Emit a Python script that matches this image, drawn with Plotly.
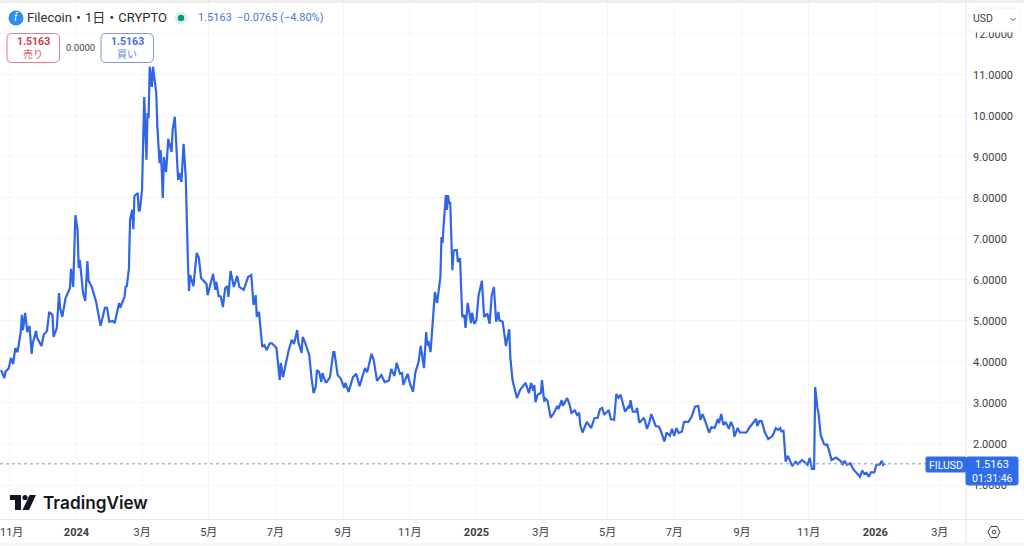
import pandas as pd
import plotly.graph_objects as go

W, H = 1024, 546
PLOT_RIGHT, PLOT_TOP, PLOT_BOTTOM = 966, 4, 519

# Tage seit dem 2024-01-01 und Kurs
days = [-69, -66, -65, -62, -60, -58, -56, -54, -51, -50, -49, -47, -45, -43, -41, -40, -37, -36, -32, -30,
        -27, -25, -22, -21, -18, -16, -15, -13, -10, -6, -5, -3, -1, 1, 2, 3, 6, 8, 10, 11,
        14, 18, 22, 23, 26, 28, 30, 33, 35, 37, 39, 40, 44, 45, 46, 48, 49, 51, 52, 53,
        56, 57, 58, 60, 62, 64, 65, 66, 67, 69, 70, 73, 74, 76, 77, 78, 79, 80, 82, 84,
        87, 88, 90, 93, 94, 96, 98, 100, 101, 102, 103, 104, 107, 110, 112, 114, 119, 120, 125, 127,
        128, 130, 132, 134, 136, 138, 139, 141, 144, 147, 149, 153, 157, 160, 162, 164, 165, 167, 170, 172,
        174, 177, 179, 183, 186, 187, 189, 194, 197, 199, 202, 203, 206, 207, 209, 213, 215, 217, 219, 220,
        222, 224, 225, 228, 229, 232, 235, 236, 239, 242, 245, 246, 249, 253, 256, 259, 264, 266, 270, 272,
        275, 279, 282, 286, 288, 291, 293, 296, 298, 299, 303, 305, 308, 310, 313, 315, 318, 320, 321, 322,
        324, 326, 328, 330, 332, 333, 334, 335, 336, 338, 339, 340, 341, 342, 344, 345, 346, 348, 349, 351,
        353, 355, 356, 358, 361, 362, 364, 366, 368, 371, 373, 376, 378, 380, 382, 384, 386, 387, 390, 393,
        396, 397, 399, 403, 406, 411, 414, 416, 418, 419, 420, 422, 425, 426, 428, 429, 431, 434, 437, 440,
        441, 444, 445, 449, 451, 453, 456, 458, 460, 461, 463, 465, 467, 471, 474, 477, 479, 481, 483, 487,
        489, 492, 494, 496, 498, 500, 502, 505, 506, 507, 509, 512, 513, 515, 519, 520, 522, 524, 526, 530,
        533, 535, 538, 540, 543, 545, 547, 549, 551, 554, 556, 560, 563, 566, 569, 571, 573, 576, 579, 581,
        584, 587, 588, 590, 592, 594, 597, 599, 601, 602, 605, 607, 613, 616, 622, 623, 625, 627, 630, 633,
        637, 640, 642, 644, 645, 647, 649, 651, 655, 658, 660, 664, 668, 669, 671, 673, 675, 676, 678, 679,
        681, 684, 686, 687, 691, 695, 700, 701, 703, 705, 708, 711, 717, 719, 721, 723, 725, 727, 730, 732,
        735, 737, 738, 740]
prices = [3.80, 3.61, 3.76, 3.85, 4.10, 3.95, 4.34, 4.24, 4.73, 5.15, 4.78, 5.20, 4.73, 4.88, 4.20, 4.46, 4.76, 4.59, 4.39, 4.66,
          4.76, 5.22, 5.15, 4.61, 4.83, 5.68, 5.32, 5.10, 5.56, 5.80, 6.27, 5.83, 7.58, 7.22, 6.29, 6.49, 5.68, 5.49, 6.46, 5.99,
          5.83, 5.46, 4.88, 4.98, 5.32, 5.32, 4.98, 5.00, 4.95, 5.20, 5.44, 5.32, 5.59, 5.85, 5.83, 6.29, 7.46, 7.71, 7.24, 8.05,
          8.12, 7.68, 7.70, 8.20, 10.46, 8.93, 10.07, 9.95, 11.20, 10.71, 11.20, 10.56, 9.74, 8.85, 9.17, 8.70, 8.00, 9.00, 8.63, 9.44,
          9.12, 9.66, 9.98, 8.44, 8.61, 8.39, 9.32, 8.49, 7.29, 6.41, 5.73, 6.12, 5.85, 6.66, 6.54, 6.05, 5.90, 5.63, 6.15, 5.76,
          5.95, 5.61, 5.60, 5.34, 5.80, 5.85, 5.59, 6.22, 5.83, 6.10, 5.83, 5.76, 6.07, 6.12, 5.39, 5.63, 5.10, 5.22, 4.37, 4.41,
          4.29, 4.46, 4.45, 4.34, 3.56, 3.98, 3.63, 4.27, 4.54, 4.44, 4.78, 4.49, 4.22, 4.61, 4.49, 4.17, 3.63, 3.24, 3.40, 3.80,
          3.76, 3.51, 3.73, 3.51, 3.51, 3.63, 4.24, 4.24, 3.68, 3.59, 3.37, 3.49, 3.27, 3.63, 3.71, 3.41, 3.85, 3.75, 4.20, 4.05,
          3.54, 3.68, 3.51, 3.55, 3.83, 3.66, 3.98, 3.71, 3.73, 3.44, 3.71, 3.49, 3.27, 3.73, 4.00, 4.39, 3.85, 4.73, 4.40, 4.51,
          4.24, 4.95, 5.71, 5.44, 5.80, 6.07, 7.05, 6.90, 7.34, 8.07, 7.71, 8.07, 7.88, 7.88, 6.24, 6.68, 6.73, 6.73, 6.44, 6.53,
          5.10, 5.14, 4.83, 5.44, 4.95, 5.20, 4.93, 5.02, 5.63, 5.98, 5.10, 5.18, 4.93, 5.63, 5.83, 4.98, 5.22, 5.02, 4.98, 4.39,
          4.80, 4.12, 3.56, 3.12, 3.32, 3.49, 3.24, 3.49, 3.30, 3.44, 3.02, 3.20, 3.25, 3.56, 3.03, 3.11, 3.06, 2.64, 2.76, 2.93,
          2.85, 3.07, 2.93, 3.12, 2.98, 2.76, 2.82, 2.71, 2.76, 2.46, 2.28, 2.41, 2.54, 2.39, 2.63, 2.64, 2.85, 2.88, 2.71, 2.83,
          2.61, 2.59, 3.22, 3.13, 3.20, 2.99, 2.79, 2.91, 2.87, 3.07, 2.79, 2.79, 2.88, 2.52, 2.63, 2.59, 2.37, 2.51, 2.73, 2.44,
          2.42, 2.30, 2.06, 2.28, 2.20, 2.37, 2.20, 2.39, 2.27, 2.30, 2.54, 2.54, 2.67, 2.91, 2.93, 2.59, 2.73, 2.51, 2.28, 2.41,
          2.39, 2.61, 2.51, 2.73, 2.46, 2.54, 2.37, 2.54, 2.41, 2.18, 2.39, 2.28, 2.28, 2.41, 2.61, 2.44, 2.56, 2.56, 2.28, 2.12,
          2.20, 2.39, 2.34, 2.39, 2.31, 2.32, 1.57, 1.71, 1.46, 1.57, 1.51, 1.61, 1.52, 1.49, 1.66, 1.39, 1.39, 3.39, 2.88, 2.76,
          2.22, 2.00, 1.97, 2.00, 1.61, 1.67, 1.57, 1.49, 1.59, 1.49, 1.53, 1.38, 1.20, 1.35, 1.27, 1.30, 1.20, 1.31, 1.31, 1.49,
          1.50, 1.59, 1.49, 1.5163]

last_price = 1.5163
y_ticks = [1, 2, 3, 4, 5, 6, 7, 8, 9, 10, 11, 12]
x_tick_dates = ["2023-11-01", "2024-01-01", "2024-03-01", "2024-05-01", "2024-07-01", "2024-09-01", "2024-11-01",
                "2025-01-01", "2025-03-01", "2025-05-01", "2025-07-01", "2025-09-01", "2025-11-01", "2026-01-01", "2026-03-01"]
# der erste Monat sitzt am Rand und kommt als Annotation, sonst schiebt plotly den Plot
x_tick_labels = ["", "<b>2024</b>", "3月", "5月", "7月", "9月", "11月",
                 "<b>2025</b>", "3月", "5月", "7月", "9月", "11月", "<b>2026</b>", "3月"]
first_tick_label = "11月"

dates = pd.Timestamp("2024-01-01") + pd.to_timedelta(days, unit="D")

FONT = "Roboto, 'Noto Sans CJK JP', sans-serif"
LINE = "#2F65E6"
BLUE = "#2F6CE8"
GRID = "#F4F5F7"
BORDER = "#E6E8EC"


# Pixel im Fenster nach paper-Koordinaten
def fx(x):
    return x / W


def fy(y):
    return 1 - y / H


def rounded(x0, y0, x1, y1, r):
    return (f"M {fx(x0 + r)} {fy(y0)} L {fx(x1 - r)} {fy(y0)} Q {fx(x1)} {fy(y0)} {fx(x1)} {fy(y0 + r)} "
            f"L {fx(x1)} {fy(y1 - r)} Q {fx(x1)} {fy(y1)} {fx(x1 - r)} {fy(y1)} "
            f"L {fx(x0 + r)} {fy(y1)} Q {fx(x0)} {fy(y1)} {fx(x0)} {fy(y1 - r)} "
            f"L {fx(x0)} {fy(y0 + r)} Q {fx(x0)} {fy(y0)} {fx(x0 + r)} {fy(y0)} Z")


def poly(points):
    return "M " + " L ".join(f"{fx(x)} {fy(y)}" for x, y in points) + " Z"


def label(fig, x, y, text, size, color, anchor="left", family=FONT, weight=None):
    fig.add_annotation(x=fx(x), y=fy(y), xref="paper", yref="paper", text=text, showarrow=False,
                       xanchor=anchor, yanchor="middle", align=anchor, borderpad=0,
                       font=dict(family=family, size=size, color=color, weight=weight))


def box(fig, x0, y0, x1, y1, r, fill, line=None, width=1):
    fig.add_shape(type="path", path=rounded(x0, y0, x1, y1, r), xref="paper", yref="paper",
                  fillcolor=fill, line=dict(color=line if line else fill, width=width))


def circle(fig, cx, cy, r, fill, line=None, width=0):
    fig.add_shape(type="circle", xref="paper", yref="paper", x0=fx(cx - r), x1=fx(cx + r), y0=fy(cy + r), y1=fy(cy - r),
                  fillcolor=fill, line=dict(color=line if line else fill, width=width))


fig = go.Figure()
fig.add_trace(go.Scatter(x=dates, y=prices, mode="lines", line=dict(color=LINE, width=2.2), hoverinfo="skip"))

fig.update_layout(
    width=W, height=H, showlegend=False, plot_bgcolor="white", paper_bgcolor="white",
    margin=dict(l=0, r=0, t=0, b=0), font=dict(family=FONT),
    xaxis=dict(
        domain=[0, PLOT_RIGHT / W], range=["2023-10-23", "2026-03-25"], tickmode="array",
        tickvals=x_tick_dates, ticktext=x_tick_labels, showgrid=True, gridcolor=GRID, gridwidth=1,
        zeroline=False, showline=False, ticks="", tickfont=dict(size=11, color="#3A3D45"), ticklabelstandoff=5,
    ),
    yaxis=dict(
        domain=[1 - PLOT_BOTTOM / H, 1 - PLOT_TOP / H], range=[0.171, 12.73], side="right", tickmode="array",
        tickvals=y_ticks, tickformat=".4f", showgrid=True, gridcolor=GRID, gridwidth=1,
        zeroline=False, showline=False, ticks="", tickfont=dict(size=11, color="#3A3D45"), ticklabelstandoff=6,
    ),
)

# Rahmen
fig.add_shape(type="rect", xref="paper", yref="paper", x0=0, x1=1, y0=fy(3), y1=1, fillcolor="#EEEEEE", line_width=0)
fig.add_shape(type="line", xref="paper", yref="paper", x0=fx(PLOT_RIGHT), x1=fx(PLOT_RIGHT), y0=fy(544), y1=fy(3),
              line=dict(color=BORDER, width=1))
fig.add_shape(type="line", xref="paper", yref="paper", x0=0, x1=1, y0=fy(519.5), y1=fy(519.5), line=dict(color=BORDER, width=1))
fig.add_shape(type="line", xref="paper", yref="paper", x0=0, x1=1, y0=fy(544), y1=fy(544), line=dict(color="#EEEEEE", width=1))
label(fig, -1, 532, first_tick_label, 11, "#3A3D45")

# letzter Kurs
fig.add_shape(type="line", xref="x domain", yref="y", x0=0, x1=1, y0=last_price, y1=last_price,
              line=dict(color="#7F97D8", width=1, dash="dot"))
box(fig, 926, 457, 966, 472, 1, BLUE)
box(fig, 966, 457, 1018, 485, 2, BLUE)
label(fig, 945.5, 465, "FILUSD", 10.5, "white", "center")
label(fig, 992, 464.5, "1.5163", 11, "white", "center")
label(fig, 992, 478, "01:31:46", 10.5, "white", "center")

# Kopfzeile
circle(fig, 16, 18, 7.5, "#2A8FF0")
label(fig, 16, 18, "<i>f</i>", 10, "white", "center")
label(fig, 26, 18, "Filecoin・1日・CRYPTO", 13, "#2A2E39")
circle(fig, 181, 18, 6.5, "#DDF2EC")
circle(fig, 181, 18, 3.2, "#089981")
label(fig, 197, 18, "1.5163  −0.0765 (−4.80%)", 11, "#4A78D8")

# Kaufen/Verkaufen
box(fig, 7, 33.5, 59.5, 62.5, 5, "white", "#E0808A")
label(fig, 33, 42, "<b>1.5163</b>", 10.5, "#CF3B48", "center")
label(fig, 33, 54.5, "売り", 10, "#D9606B", "center")
label(fig, 80, 47.5, "0.0000", 9.5, "#444444", "center")
box(fig, 101, 33.5, 153.5, 62.5, 5, "white", "#7D9BD8")
label(fig, 127, 42, "<b>1.5163</b>", 10.5, "#3F6FD8", "center")
label(fig, 127, 54.5, "買い", 10, "#5F86D8", "center")

# Waehrung
box(fig, 968, 8, 1020, 32, 3, "white", "#F2F2F2")
label(fig, 972, 19, "USD", 10.5, "#3A3D45")
fig.add_shape(type="path", path=f"M {fx(1010.5)} {fy(18)} L {fx(1013)} {fy(20.5)} L {fx(1015.5)} {fy(18)}",
              xref="paper", yref="paper", line=dict(color="#444444", width=1))

# Logo
fig.add_shape(type="path", path=poly([(10, 495), (21, 495), (21, 510), (15, 510), (15, 500), (10, 500)]),
              xref="paper", yref="paper", fillcolor="#131722", line_width=0)
circle(fig, 25, 497.5, 2.6, "#131722")
fig.add_shape(type="path", path=poly([(29.5, 495), (36, 495), (29, 510), (22.5, 510)]),
              xref="paper", yref="paper", fillcolor="#131722", line_width=0)
label(fig, 42, 502, "TradingView", 17.2, "#131722", family="Inter, Roboto, sans-serif", weight=600)

# Einstellungen
fig.add_shape(type="path", path=poly([(988, 532), (991, 526.5), (997, 526.5), (1000, 532), (997, 537.5), (991, 537.5)]),
              xref="paper", yref="paper", fillcolor="white", line=dict(color="#3A3D45", width=1))
circle(fig, 994, 532, 1.8, "white", "#3A3D45", 1)

# Browser-Rand der Seite entfernen, sonst liegt alles um 8 px versetzt
fig.write_html("out.html", config=dict(displayModeBar=False), post_script="document.body.style.margin='0';")
